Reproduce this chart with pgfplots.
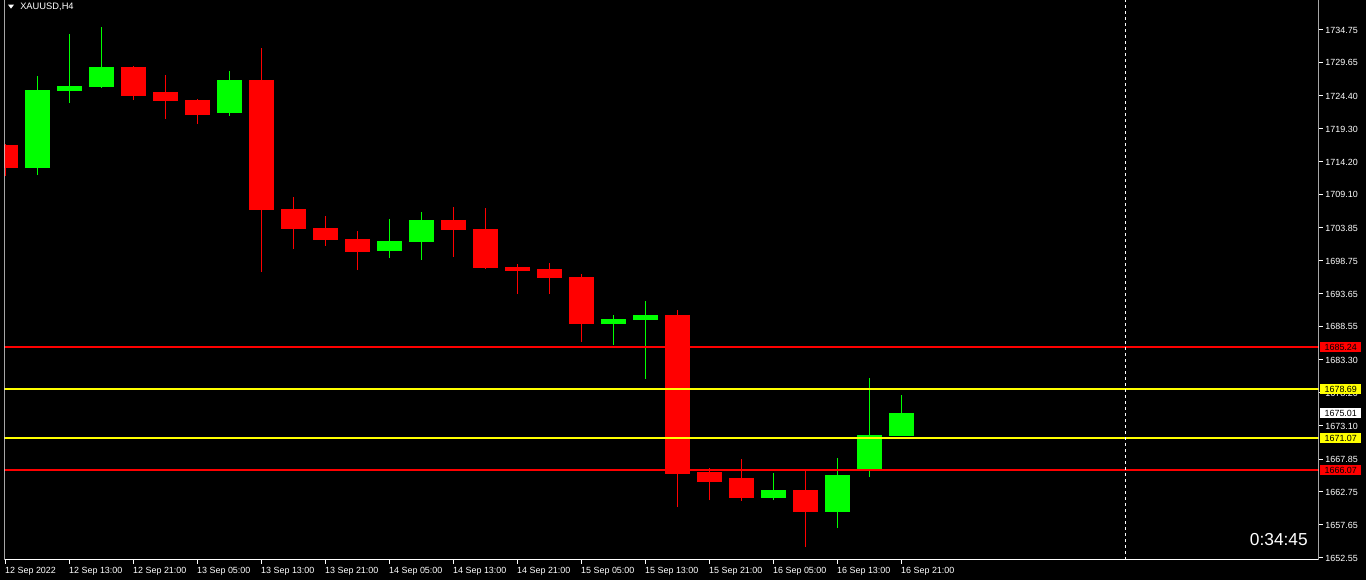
\documentclass[border=0pt]{standalone}
\usepackage{pgfplots}
\pgfplotsset{compat=1.18}
\usepackage{fontspec}
\setmainfont{Liberation Sans}
\definecolor{mtred}{RGB}{255,0,0}
\definecolor{mtgreen}{RGB}{0,255,0}
\definecolor{mtyellow}{RGB}{255,255,0}
\begin{document}
\begin{tikzpicture}
\useasboundingbox (0pt,0pt) rectangle (1024.5pt,435pt);
\fill[black] (0pt,0pt) rectangle (1024.5pt,435pt);
\begin{axis}[
  at={(3.375pt,15pt)}, anchor=south west,
  scale only axis, width=985.5pt, height=420pt,
  xmin=-0.03125, xmax=41.03125, ymin=1652.13, ymax=1739.34,
  axis background/.style={fill=black},
  axis line style={draw=none},
  tick align=outside,
  major tick length=3pt,
  tick style={white, line width=0.75pt},
  xtick pos=bottom, ytick pos=right, yticklabel pos=right,
  xtick={0,2,...,28},
  xticklabels={12 Sep 2022,12 Sep 13:00,12 Sep 21:00,13 Sep 05:00,13 Sep 13:00,13 Sep 21:00,14 Sep 05:00,14 Sep 13:00,14 Sep 21:00,15 Sep 05:00,15 Sep 13:00,15 Sep 21:00,16 Sep 05:00,16 Sep 13:00,16 Sep 21:00},
  ytick={1734.75,1729.65,1724.40,1719.30,1714.20,1709.10,1703.85,1698.75,1693.65,1688.55,1683.30,1678.20,1673.10,1667.85,1662.75,1657.65,1652.55},
  yticklabels={1734.75,1729.65,1724.40,1719.30,1714.20,1709.10,1703.85,1698.75,1693.65,1688.55,1683.30,1678.20,1673.10,1667.85,1662.75,1657.65,1652.55},
  ticklabel style={font=\fontsize{6.7}{7}\selectfont, text=white, inner sep=0pt},
  xticklabel style={anchor=west, yshift=-5.4pt, xshift=-0.4pt},
  yticklabel style={anchor=west, xshift=2.0pt, yshift=-0.5pt},
  unbounded coords=jump,
]
% red wicks
\addplot[mtred, line width=0.75pt] coordinates {
(0,1711.98) (0,1716.90) (0,nan)
(4,1723.82) (4,1729.07) (4,nan)
(5,1720.86) (5,1727.66) (5,nan)
(6,1720.08) (6,1723.93) (6,nan)
(8,1697.03) (8,1731.87) (8,nan)
(9,1700.56) (9,1708.66) (9,nan)
(10,1701.03) (10,1705.70) (10,nan)
(11,1697.29) (11,1703.37) (11,nan)
(14,1699.32) (14,1707.11) (14,nan)
(15,1697.50) (15,1706.95) (15,nan)
(16,1693.56) (16,1698.23) (16,nan)
(17,1693.56) (17,1698.39) (17,nan)
(18,1686.08) (18,1696.67) (18,nan)
(21,1660.38) (21,1691.07) (21,nan)
(22,1661.47) (22,1666.46) (22,nan)
(23,1661.32) (23,1667.86) (23,nan)
(25,1654.15) (25,1665.99)
};
% green wicks
\addplot[mtgreen, line width=0.75pt] coordinates {
(1,1712.14) (1,1727.51) (1,nan)
(2,1723.35) (2,1734.05) (2,nan)
(3,1725.64) (3,1735.14) (3,nan)
(7,1721.28) (7,1728.29) (7,nan)
(12,1699.16) (12,1705.24) (12,nan)
(13,1698.85) (13,1706.33) (13,nan)
(19,1685.61) (19,1690.29) (19,nan)
(20,1680.32) (20,1692.47) (20,nan)
(24,1661.47) (24,1665.68) (24,nan)
(26,1657.11) (26,1668.02) (26,nan)
(27,1665.06) (27,1680.47) (27,nan)
(28,1671.44) (28,1677.83)
};
% red bodies (open -> close)
\addplot[mtred, line width=18.75pt, line cap=butt] coordinates {
(0,1716.76) (0,1713.23) (0,nan)
(4,1728.91) (4,1724.39) (4,nan)
(5,1725.02) (5,1723.61) (5,nan)
(6,1723.77) (6,1721.43) (6,nan)
(8,1726.89) (8,1706.64) (8,nan)
(9,1706.79) (9,1703.68) (9,nan)
(10,1703.84) (10,1701.97) (10,nan)
(11,1702.12) (11,1700.10) (11,nan)
(14,1705.08) (14,1703.52) (14,nan)
(15,1703.68) (15,1697.61) (15,nan)
(16,1697.76) (16,1697.14) (16,nan)
(17,1697.45) (17,1696.05) (17,nan)
(18,1696.20) (18,1688.88) (18,nan)
(21,1690.29) (21,1665.57) (21,nan)
(22,1665.83) (22,1664.28) (22,nan)
(23,1664.90) (23,1661.79) (23,nan)
(25,1663.03) (25,1659.61)
};
% green bodies (open -> close)
\addplot[mtgreen, line width=18.75pt, line cap=butt] coordinates {
(1,1713.23) (1,1725.33) (1,nan)
(2,1725.22) (2,1725.95) (2,nan)
(3,1725.79) (3,1728.91) (3,nan)
(7,1721.75) (7,1726.89) (7,nan)
(12,1700.25) (12,1701.81) (12,nan)
(13,1701.66) (13,1705.08) (13,nan)
(19,1688.88) (19,1689.66) (19,nan)
(20,1689.51) (20,1690.29) (20,nan)
(24,1661.79) (24,1663.03) (24,nan)
(26,1659.61) (26,1665.37) (26,nan)
(27,1665.99) (27,1671.60) (27,nan)
(28,1671.44) (28,1675.01)
};
% horizontal levels
\addplot[mtred, line width=1.5pt] coordinates {(-1,1685.24) (42,1685.24)};
\addplot[mtyellow, line width=1.5pt] coordinates {(-1,1678.69) (42,1678.69)};
\addplot[mtyellow, line width=1.5pt] coordinates {(-1,1671.07) (42,1671.07)};
\addplot[mtred, line width=1.5pt] coordinates {(-1,1666.07) (42,1666.07)};
% vertical dashed separator
\addplot[white, line width=0.75pt, dash pattern=on 2.25pt off 2.25pt] coordinates {(35,1652.13) (35,1739.34)};
% frame
\draw[white, line width=0.75pt] (rel axis cs:0,1) -- (rel axis cs:0,0) -- (rel axis cs:1,0) -- (rel axis cs:1,1);
\coordinate (tA) at (axis cs:41.03125,1685.24);
\coordinate (tB) at (axis cs:41.03125,1678.69);
\coordinate (tC) at (axis cs:41.03125,1675.01);
\coordinate (tD) at (axis cs:41.03125,1671.07);
\coordinate (tE) at (axis cs:41.03125,1666.07);
\end{axis}
\tikzset{tag/.style={anchor=west, xshift=1.1pt, inner sep=0pt, minimum width=30.75pt, minimum height=7.5pt, font=\fontsize{6.7}{7}\selectfont, text=black}}
\node[tag, fill=mtred] at (tA) {1685.24};
\node[tag, fill=mtyellow] at (tB) {1678.69};
\node[tag, fill=white] at (tC) {1675.01};
\node[tag, fill=mtyellow] at (tD) {1671.07};
\node[tag, fill=mtred] at (tE) {1666.07};
% title
\fill[white] (6pt,431.5pt) -- (10.5pt,431.5pt) -- (8.25pt,428.5pt) -- cycle;
\node[anchor=west, inner sep=0pt, text=white, font=\fontsize{7}{8}\selectfont] at (15pt,429.5pt) {XAUUSD,H4};
% countdown
\node[anchor=east, inner sep=0pt, text=white, font=\fontsize{13}{14}\selectfont] at (981pt,30pt) {0:34:45};
\end{tikzpicture}
\end{document}
